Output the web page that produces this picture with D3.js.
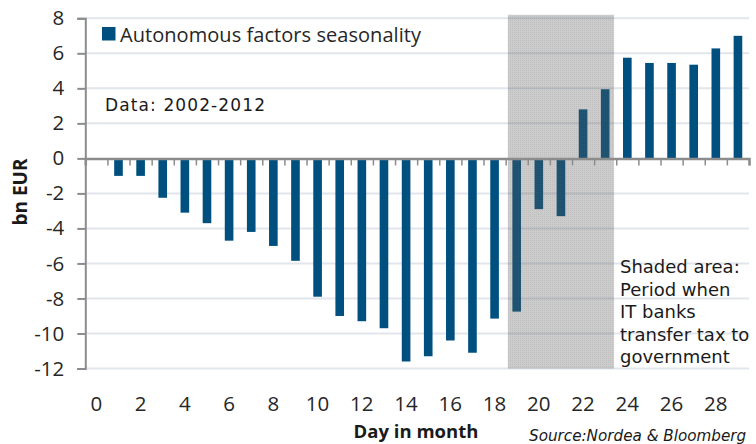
<!DOCTYPE html>
<html>
<head>
<meta charset="utf-8">
<script src="https://cdn.jsdelivr.net/npm/d3@7"></script>
<style>
  body { margin: 0; background: #fff; }
  svg { display: block; }
  .tick text { fill: #262626; }
</style>
</head>
<body>
<svg></svg>
<script>

var days = d3.range(0, 30)
var values = [0, -1.0, -1.0, -2.25, -3.1, -3.7, -4.7, -4.2, -5.0, -5.85,
   -7.9, -9.0, -9.3, -9.7, -11.6, -11.3, -10.4, -11.1, -9.15, -8.75,
   -2.9, -3.3, 2.8, 3.95, 5.75, 5.45, 5.45, 5.35, 6.28, 7.0]
var yTicks = [-12, -10, -8, -6, -4, -2, 0, 2, 4, 6, 8]
var xLabels = d3.range(0, 30, 2)
var shadeDays = [19.1, 23.9]
var shadeText = ['Shaded area:', 'Period when', 'IT banks', 'transfer tax to', 'government']

var svg = d3.select('svg')
   .attr('width', 756)
   .attr('height', 444)

var defs = svg.append('defs')
var pat = defs.append('pattern')
   .attr('id', 'stipple')
   .attr('width', 2)
   .attr('height', 2)
   .attr('patternUnits', 'userSpaceOnUse')
pat.append('rect').attr('width', 2).attr('height', 2).attr('fill', '#555').attr('opacity', 0.3)
pat.append('rect').attr('width', 1).attr('height', 1).attr('fill', '#777').attr('opacity', 0.15)

var left = 85.3, right = 749

var x = d3.scaleBand()
   .domain(days)
   .range([left, right])
   .paddingInner(0.61)
   .paddingOuter(0.305)

var xl = d3.scaleLinear()
   .domain([0, days.length])
   .range([left, right])

var y = d3.scaleLinear()
   .domain([-12, 8])
   .range([368.5, 18.3])

// gridlines
svg.append('g')
   .selectAll('line')
   .data(yTicks.filter(function (d) { return d !== 0 }))
   .enter()
   .append('line')
   .attr('x1', left)
   .attr('x2', right)
   .attr('y1', function (d) { return y(d) })
   .attr('y2', function (d) { return y(d) })
   .attr('stroke', '#e1e6ec')
   .attr('stroke-width', 2)

// bars
svg.append('g')
   .selectAll('rect')
   .data(values)
   .enter()
   .append('rect')
   .attr('x', function (d, i) { return x(days[i]) })
   .attr('width', x.bandwidth())
   .attr('y', function (d) { return y(Math.max(0, d)) })
   .attr('height', function (d) { return Math.abs(y(d) - y(0)) })
   .attr('fill', '#00507f')

// shaded period
svg.append('rect')
   .attr('x', xl(shadeDays[0]))
   .attr('width', xl(shadeDays[1]) - xl(shadeDays[0]))
   .attr('y', y(8.2))
   .attr('height', y(-12) - y(8.2))
   .attr('fill', 'url(#stipple)')

// y axis
var yAxis = svg.append('g')
   .attr('transform', 'translate(' + left + ',0)')
   .call(d3.axisLeft(y).tickValues(yTicks).tickSize(8).tickPadding(13)
      .tickFormat(function (d) { return String(d) }))
yAxis.select('.domain').attr('stroke', '#8c8c8c').attr('stroke-width', 2)
yAxis.selectAll('.tick line').attr('stroke', '#8c8c8c').attr('stroke-width', 2)
yAxis.selectAll('text')
   .attr('font-family', 'Open Sans')
   .attr('font-size', 20.5)

// x axis along zero
var xAxis = svg.append('g')
   .attr('transform', 'translate(0,' + y(0) + ')')
   .call(d3.axisBottom(xl).tickValues(d3.range(1, 31)).tickSize(7).tickFormat(''))
xAxis.select('.domain').attr('stroke', '#8c8c8c').attr('stroke-width', 2.5)
xAxis.selectAll('.tick line').attr('stroke', '#8c8c8c').attr('stroke-width', 1.5)

// x labels at bottom
svg.append('g')
   .selectAll('text')
   .data(xLabels)
   .enter()
   .append('text')
   .attr('x', function (d) { return x(d) + x.bandwidth() / 2 })
   .attr('y', 411)
   .attr('text-anchor', 'middle')
   .attr('font-family', 'Open Sans')
   .attr('font-size', 20.5)
   .attr('fill', '#262626')
   .text(function (d) { return d })

// legend
svg.append('rect')
   .attr('x', 102)
   .attr('y', 27)
   .attr('width', 13.5)
   .attr('height', 13.5)
   .attr('fill', '#00507f')
svg.append('text')
   .attr('x', 120)
   .attr('y', 42)
   .attr('font-family', 'Open Sans')
   .attr('font-size', 20)
   .attr('textLength', 301)
   .attr('fill', '#262626')
   .text('Autonomous factors seasonality')

svg.append('text')
   .attr('x', 105)
   .attr('y', 111)
   .attr('font-family', 'DejaVu Sans')
   .attr('font-size', 17)
   .attr('textLength', 160)
   .attr('fill', '#1a1a1a')
   .text('Data:  2002-2012')

svg.append('g')
   .selectAll('text')
   .data(shadeText)
   .enter()
   .append('text')
   .attr('x', 620)
   .attr('y', function (d, i) { return 273 + i * 22.6 })
   .attr('font-family', 'DejaVu Sans')
   .attr('font-size', 18)
   .attr('fill', '#1a1a1a')
   .text(function (d) { return d })

svg.append('text')
   .attr('transform', 'translate(27,192) rotate(-90)')
   .attr('text-anchor', 'middle')
   .attr('font-family', 'Open Sans')
   .attr('font-weight', 'bold')
   .attr('font-size', 19)
   .attr('fill', '#1a1a1a')
   .text('bn EUR')

svg.append('text')
   .attr('x', 416)
   .attr('y', 438)
   .attr('text-anchor', 'middle')
   .attr('font-family', 'Open Sans')
   .attr('font-weight', 'bold')
   .attr('font-size', 18.5)
   .attr('fill', '#1a1a1a')
   .text('Day in month')

svg.append('text')
   .attr('x', 529)
   .attr('y', 441)
   .attr('font-family', 'DejaVu Sans')
   .attr('font-style', 'italic')
   .attr('font-size', 15.2)
   .attr('fill', '#1a1a1a')
   .text('Source:Nordea & Bloomberg')
</script>
</body>
</html>
